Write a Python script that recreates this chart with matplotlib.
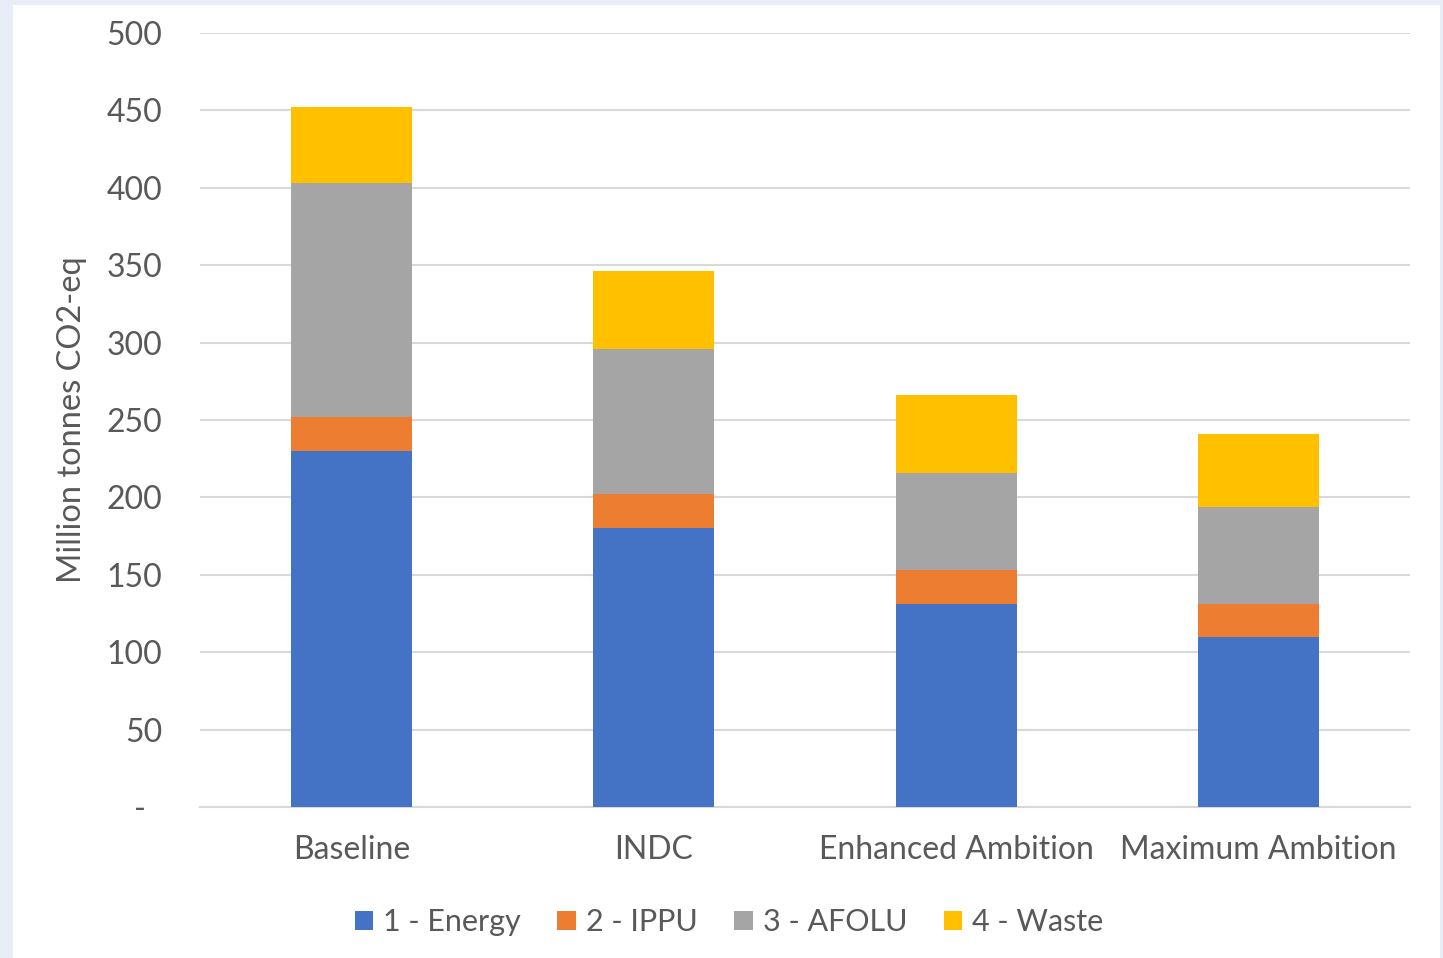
import matplotlib
matplotlib.use("Agg")
import matplotlib.pyplot as plt
from matplotlib.patches import Patch, Rectangle
import numpy as np

scenarios = ["Baseline", "INDC", "Enhanced Ambition", "Maximum Ambition"]
sectors = ["1 - Energy", "2 - IPPU", "3 - AFOLU", "4 - Waste"]
energy = [230, 180, 131, 110]
ippu = [22, 22, 22, 21]
afolu = [151, 94, 63, 63]
waste = [49, 50, 50, 47]
y_ticks = [0, 50, 100, 150, 200, 250, 300, 350, 400, 450, 500]
y_tick_labels = ["-  ", "50", "100", "150", "200", "250", "300", "350", "400", "450", "500"]

colors = ["#4472C4", "#ED7D31", "#A5A5A5", "#FFC000"]
text_color = "#595959"
plt.rcParams["font.family"] = ["Lato", "DejaVu Sans"]

fig = plt.figure(figsize=(14.43, 9.58), dpi=100)
fig.patch.set_facecolor("#E9EEF6")
# white chart panel inside the light frame, kept behind the axes
panel = Rectangle((13 / 1443, 0), (1440 - 13) / 1443, 1 - 5 / 958,
                  transform=fig.transFigure, facecolor="white",
                  edgecolor="none", zorder=-10)
fig.add_artist(panel)

ax = fig.add_axes([200 / 1443, 1 - 807 / 958, 1210 / 1443, 774 / 958])
ax.set_facecolor("none")
ax.set_zorder(1)

x = np.arange(len(scenarios))
bottom = np.zeros(len(scenarios))
for vals, col, name in zip([energy, ippu, afolu, waste], colors, sectors):
    ax.bar(x, vals, width=0.4, bottom=bottom, color=col, label=name, zorder=3)
    bottom += np.array(vals)

ax.set_xlim(-0.5, 3.5)
ax.set_ylim(0, 500)
ax.set_yticks(y_ticks)
ax.set_yticklabels(y_tick_labels)
ax.set_xticks(x)
ax.set_xticklabels(scenarios)
ax.yaxis.grid(True, color="#D9D9D9", linewidth=1.5, zorder=0)
ax.set_axisbelow(True)
for s in ["top", "right", "left"]:
    ax.spines[s].set_visible(False)
ax.spines["bottom"].set_color("#D9D9D9")
ax.spines["bottom"].set_linewidth(1.5)
ax.tick_params(axis="both", length=0, labelsize=23, colors=text_color)
ax.tick_params(axis="y", pad=27)
ax.tick_params(axis="x", pad=20)
ax.set_ylabel("Million tonnes CO2-eq", fontsize=23.5, color=text_color, labelpad=14)

handles = [Patch(facecolor=c, edgecolor="none") for c in colors]
fig.legend(handles, sectors, loc="center", bbox_to_anchor=(729 / 1443, 1 - 922 / 958),
           ncol=4, frameon=False, fontsize=22, labelcolor=text_color,
           handlelength=0.6, handleheight=0.6, handletextpad=0.33, columnspacing=1.2)

fig.savefig("out.png", dpi=100)
